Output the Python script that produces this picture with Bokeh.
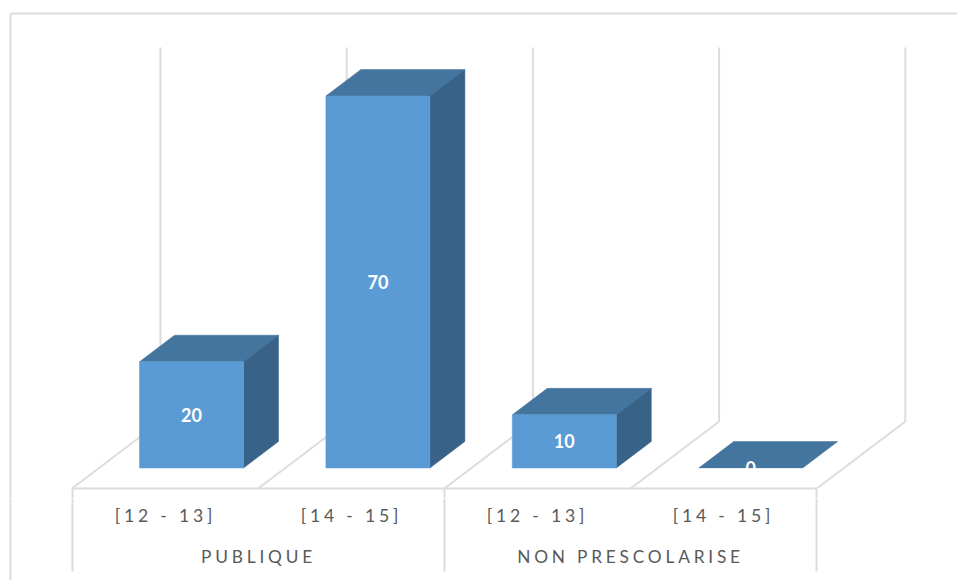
from bokeh.plotting import figure
from bokeh.layouts import column
from bokeh.models import Range1d, InlineStyleSheet
from bokeh.core.properties import value
from bokeh.embed import file_html
from bokeh.resources import INLINE

# ---- data ----
groups = ["PUBLIQUE", "NON PRESCOLARISE"]
ranges_ = ["[12 - 13]", "[14 - 15]", "[12 - 13]", "[14 - 15]"]
values = [20, 70, 10, 0]

# ---- layout constants (page pixels) ----
W, H_TOP, H_BOT = 957, 498, 82
PAGE_L, PAGE_T = 0, 0
SPLIT = PAGE_T + H_TOP
BASE_Y, PX_PER_UNIT = 467.5, 5.314      # value 0 and scale of value axis
C0, STEP = 191.0, 186.4                 # first bar centre, category step
HALF = 0.279                            # half bar width in category units
DX, DY = 35 / STEP, 26.5 / PX_PER_UNIT  # 3D depth in data units
LS = 3.8                                # letter spacing of category labels, px
FRAME, FRONT, TOPC, SIDE, TXT = "#dcdcdc", "#5b9bd5", "#44759f", "#386287", "#595959"


def xd(px):
    return (px - C0) / STEP


def yd(py):
    return (BASE_Y - py) / PX_PER_UNIT


def make(top, height, sheet=None):
    f = figure(width=W, height=height, output_backend="svg", toolbar_location=None,
               x_range=Range1d(xd(PAGE_L), xd(PAGE_L + W)),
               y_range=Range1d(yd(top + height), yd(top)),
               min_border=0, outline_line_color=None, x_axis_location=None, y_axis_location=None,
               stylesheets=[sheet] if sheet else [])
    f.grid.visible = False
    f.background_fill_color = "white"
    return f


def seg(f, x0, y0, x1, y1, w=2):
    f.line([xd(x0), xd(x1)], [yd(y0), yd(y1)], line_color=FRAME, line_width=w)


def spaced_x(px, label):
    # the text start is computed without the CSS letter spacing, so compensate
    return xd(px - len(label) * LS / 2)


p = make(PAGE_T, H_TOP)
# chart frame
seg(p, 10, 13, 957, 13)
seg(p, 10, 13, 10, SPLIT)
# back wall and floor
for i in range(5):
    x = 160 + i * 186.2
    seg(p, x, 47, x, 421)
    seg(p, x, 421, x - 88.5, 488)
seg(p, 72, 488, 816, 488)
for x in (72, 444, 816):
    seg(p, x, 488, x, SPLIT)

# bars
xs = [i for i in range(len(values))]
p.patches(
    [[x - HALF, x + HALF, x + HALF + DX, x - HALF + DX] for x in xs],
    [[v, v, v + DY, v + DY] for v in values],
    fill_color=TOPC, line_color=TOPC, line_width=0.5)
p.patches(
    [[x + HALF, x + HALF + DX, x + HALF + DX, x + HALF] for x, v in zip(xs, values) if v > 0],
    [[0, DY, v + DY, v] for x, v in zip(xs, values) if v > 0],
    fill_color=SIDE, line_color=SIDE, line_width=0.5)
nz = [(x, v) for x, v in zip(xs, values) if v > 0]
p.quad(left=[x - HALF for x, v in nz], right=[x + HALF for x, v in nz],
       bottom=0, top=[v for x, v in nz], fill_color=FRONT, line_color=FRONT, line_width=0.5)
# value labels
p.text(xs, [v / 2 for v in values], text=[str(v) for v in values], text_color="white",
       text_font=value("Lato"), text_font_size="18px", text_font_style="bold",
       text_align="center", text_baseline="middle")
# the label of an empty bar is cut by its base
p.quad(left=[3 - HALF], right=[3 + HALF], top=[-0.1], bottom=[-3],
       fill_color="white", line_color=None)

# category labels: separate figure, its text is letter-spaced
sheet = InlineStyleSheet(css=f":host {{ letter-spacing: {LS}px; }}")
q = make(SPLIT, H_BOT, sheet)
seg(q, 10, SPLIT, 10, 580)
for x in (72, 444, 816):
    seg(q, x, SPLIT, x, 571)
q.text([spaced_x(165 + i * 186, t) for i, t in enumerate(ranges_)], [yd(515)] * 4, text=ranges_,
       text_color=TXT, text_font=value("Lato"), text_font_size="17.6px",
       text_align="center", text_baseline="middle")
q.text([spaced_x(258, groups[0]), spaced_x(630, groups[1])], [yd(556)] * 2, text=groups,
       text_color=TXT, text_font=value("Lato"), text_font_size="17.3px",
       text_align="center", text_baseline="middle")

layout = column(p, q, spacing=0)
open("out.html", "w").write(file_html(layout, INLINE))
